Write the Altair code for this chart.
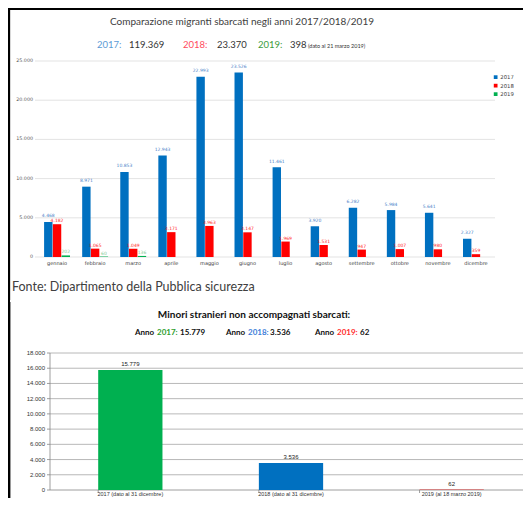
import altair as alt
import pandas as pd

# ---------------- data ----------------
months = ["gennaio", "febbraio", "marzo", "aprile", "maggio", "giugno",
          "luglio", "agosto", "settembre", "ottobre", "novembre", "dicembre"]
years = ["2017", "2018", "2019"]
v2017 = [4468, 8971, 10853, 12943, 22993, 23526, 11461, 3920, 6282, 5984, 5641, 2327]
v2018 = [4182, 1065, 1049, 3171, 3963, 3147, 1969, 1531, 947, 1007, 980, 359]
v2019 = [202, 60, 136]
top_ticks = [0, 5000, 10000, 15000, 20000, 25000]

minor_cats = ["2017 (dato al 31 dicembre)", "2018 (dato al 31 dicembre)", "2019 (al 18 marzo 2019)"]
minor_vals = [15779, 3536, 62]
bottom_ticks = [0, 2000, 4000, 6000, 8000, 10000, 12000, 14000, 16000, 18000]

# ---------------- styles ----------------
year_colors = ["#0070C0", "#FF0000", "#00B050"]
label_colors = ["#4A7FC9", "#FF1F1F", "#86C995"]
label_dy = [-5.5, -3.0, -3.0]
minor_colors = ["#00B050", "#0070C0", "#D83B3B"]
FMT = "replace(format(datum.value, ','), ',', '.')"

rows = []
for i, m in enumerate(months):
    rows.append({"month": m, "year": "2017", "value": v2017[i]})
    rows.append({"month": m, "year": "2018", "value": v2018[i]})
for i, v in enumerate(v2019):
    rows.append({"month": months[i], "year": "2019", "value": v})
top_df = pd.DataFrame(rows)
bot_df = pd.DataFrame({"cat": minor_cats, "value": minor_vals})
one = pd.DataFrame({"a": [0]})


def txt(s, x, y, size, color, align="left", bold=False, font="Lato"):
    return alt.Chart(one).mark_text(
        text=s, align=align, baseline="middle", fontSize=size, color=color,
        font=font, fontWeight="bold" if bold else "normal"
    ).encode(x=alt.value(x), y=alt.value(y))


# ---------------- top chart ----------------
top_x_scale = alt.Scale(domain=months, range=[28, 485], paddingInner=0.32, paddingOuter=0.16)
top_y_scale = alt.Scale(domain=[0, 25000], range=[247, 51], nice=False, zero=True)
xo_top = alt.XOffset("year:N", scale=alt.Scale(domain=years, paddingInner=0.04))
ticks_top_df = pd.DataFrame({"value": top_ticks})

top_grid = alt.Chart(ticks_top_df).mark_rule(color="#DCDCDC", strokeWidth=0.8).encode(
    y=alt.Y("value:Q", scale=top_y_scale, axis=None),
    x=alt.value(25), x2=alt.value(485)
)

top_ylabels = alt.Chart(ticks_top_df).transform_calculate(lbl=FMT).mark_text(
    align="right", baseline="middle", fontSize=4.8, font="DejaVu Sans", color="#595959"
).encode(
    y=alt.Y("value:Q", scale=top_y_scale, axis=None),
    x=alt.value(23), text="lbl:N"
)

top_xlabels = alt.Chart(pd.DataFrame({"month": months})).mark_text(
    align="center", baseline="top", fontSize=5, font="DejaVu Sans", color="#404040"
).encode(
    x=alt.X("month:N", sort=months, scale=top_x_scale, axis=None),
    y=alt.value(250.5), text="month:N"
)

top_bars = alt.Chart(top_df).mark_bar().encode(
    x=alt.X("month:N", sort=months, scale=top_x_scale, axis=None),
    xOffset=xo_top,
    y=alt.Y("value:Q", scale=top_y_scale, axis=None),
    color=alt.Color("year:N", scale=alt.Scale(domain=years, range=year_colors),
                    legend=alt.Legend(orient="none", legendX=483, legendY=64.5, title=None,
                                      symbolType="square", symbolSize=14, symbolStrokeWidth=0,
                                      labelFontSize=5.3, labelFont="DejaVu Sans",
                                      labelColor="#404040", rowPadding=2.5, labelOffset=2,
                                      padding=0))
)

top_labels = [
    alt.Chart(top_df).transform_filter(alt.datum.year == yr).transform_calculate(
        lbl=FMT
    ).mark_text(baseline="middle", dy=d, fontSize=4.5, font="DejaVu Sans", color=c).encode(
        x=alt.X("month:N", sort=months, scale=top_x_scale, axis=None),
        xOffset=xo_top,
        y=alt.Y("value:Q", scale=top_y_scale, axis=None),
        text="lbl:N"
    )
    for yr, c, d in zip(years, label_colors, label_dy)
]

top = alt.layer(top_grid, top_ylabels, top_xlabels, top_bars, *top_labels)

# ---------------- bottom chart ----------------
bot_x_scale = alt.Scale(domain=minor_cats, range=[40, 522], paddingInner=0.6, paddingOuter=0.3)
bot_y_scale = alt.Scale(domain=[0, 18000], range=[480, 343], nice=False, zero=True)
ticks_bot_df = pd.DataFrame({"value": bottom_ticks})
AX = "#868686"

bot_grid = alt.Chart(ticks_bot_df).transform_filter("datum.value > 0").mark_rule(
    color="#A6A6A6", strokeWidth=0.8
).encode(
    y=alt.Y("value:Q", scale=bot_y_scale, axis=None),
    x=alt.value(40), x2=alt.value(513)
)

bot_ydomain = alt.Chart(pd.DataFrame({"lo": [bottom_ticks[0]], "hi": [bottom_ticks[-1]]})).mark_rule(
    color=AX, strokeWidth=0.8
).encode(
    y=alt.Y("lo:Q", scale=bot_y_scale, axis=None), y2="hi:Q", x=alt.value(40)
)

bot_yticks = alt.Chart(ticks_bot_df).mark_rule(color=AX, strokeWidth=0.8).encode(
    y=alt.Y("value:Q", scale=bot_y_scale, axis=None), x=alt.value(37), x2=alt.value(40)
)

bot_ylabels = alt.Chart(ticks_bot_df).transform_calculate(lbl=FMT).mark_text(
    align="right", baseline="middle", fontSize=6, font="Liberation Sans", color="#333333"
).encode(
    y=alt.Y("value:Q", scale=bot_y_scale, axis=None), x=alt.value(35), text="lbl:N"
)

bot_xdomain = alt.Chart(pd.DataFrame({"value": [0]})).mark_rule(color=AX, strokeWidth=0.8).encode(
    y=alt.Y("value:Q", scale=bot_y_scale, axis=None), x=alt.value(40), x2=alt.value(513)
)

bot_xticks = alt.Chart(pd.DataFrame({"cat": minor_cats})).mark_rule(color=AX, strokeWidth=0.8).encode(
    x=alt.X("cat:N", sort=minor_cats, scale=bot_x_scale, axis=None, bandPosition=0),
    y=alt.value(480), y2=alt.value(483)
)

bot_xlabels = alt.Chart(pd.DataFrame({"cat": minor_cats})).mark_text(
    align="center", baseline="top", fontSize=5.5, font="Liberation Sans", color="#333333"
).encode(
    x=alt.X("cat:N", sort=minor_cats, scale=bot_x_scale, axis=None),
    y=alt.value(482.2), text="cat:N"
)

bot_bars = alt.Chart(bot_df).mark_bar().encode(
    x=alt.X("cat:N", sort=minor_cats, scale=bot_x_scale, axis=None),
    y=alt.Y("value:Q", scale=bot_y_scale, axis=None),
    color=alt.Color("cat:N", scale=alt.Scale(domain=minor_cats, range=minor_colors), legend=None)
)

bot_labels = alt.Chart(bot_df).transform_calculate(lbl=FMT).mark_text(
    baseline="bottom", dy=-3, fontSize=6, font="Liberation Sans", color="#222222"
).encode(
    x=alt.X("cat:N", sort=minor_cats, scale=bot_x_scale, axis=None),
    y=alt.Y("value:Q", scale=bot_y_scale, axis=None),
    text="lbl:N"
)

bottom = alt.layer(bot_grid, bot_ydomain, bot_yticks, bot_ylabels, bot_xdomain,
                   bot_xticks, bot_xlabels, bot_bars, bot_labels)

# ---------------- texts & frame ----------------
frame = [
    alt.Chart(one).mark_rule(color="#D8D8D8", strokeWidth=1).encode(
        x=alt.value(0.5), y=alt.value(0), y2=alt.value(290)),
    alt.Chart(one).mark_rule(color="#9A9A9A", strokeWidth=1).encode(
        x=alt.value(0.5), y=alt.value(292), y2=alt.value(488)),
]

texts = [
    txt("Comparazione migranti sbarcati negli anni 2017/2018/2019", 232, 12, 10, "#404040", align="center"),
    txt("2017:", 87, 35, 9.5, "#5B9BD5"),
    txt("119.369", 119, 35, 9.5, "#333333"),
    txt("2018:", 173, 35, 9.5, "#FF4B5C"),
    txt("23.370", 207, 35, 9.5, "#333333"),
    txt("2019:", 248, 35, 9.5, "#3C9C3C"),
    txt("398", 280, 35, 9.5, "#333333"),
    txt("(dato al 21 marzo 2019)", 298, 35.5, 5.5, "#333333"),
    txt("Fonte: Dipartimento della Pubblica sicurezza", 2, 277, 12.5, "#404040"),
    txt("Minori stranieri non accompagnati sbarcati:", 244, 305, 10, "#111111", align="center", bold=True),
    txt("Anno", 125, 323, 8, "#111111", bold=True),
    txt("2017:", 147, 323, 8, "#2E9E2E", bold=True),
    txt("15.779", 170, 323, 8, "#111111", bold=True),
    txt("Anno", 216, 323, 8, "#111111", bold=True),
    txt("2018:", 238, 323, 8, "#3C7DD9", bold=True),
    txt("3.536", 260, 323, 8, "#111111", bold=True),
    txt("Anno", 305, 323, 8, "#111111", bold=True),
    txt("2019:", 327, 323, 8, "#FF2D2D", bold=True),
    txt("62", 350, 323, 8, "#111111", bold=True),
]

chart = alt.layer(*frame, *texts, top, bottom).resolve_scale(
    x="independent", y="independent", color="independent", xOffset="independent"
).resolve_legend(
    color="independent"
).properties(
    width=513, height=488,
    autosize=alt.AutoSizeParams(type="none"),
    padding={"left": 2, "top": 2, "right": 0, "bottom": 0},
    background="black"
).configure_view(fill="white", stroke=None)

chart.save("out.html", embed_options={"renderer": "svg", "actions": False})
